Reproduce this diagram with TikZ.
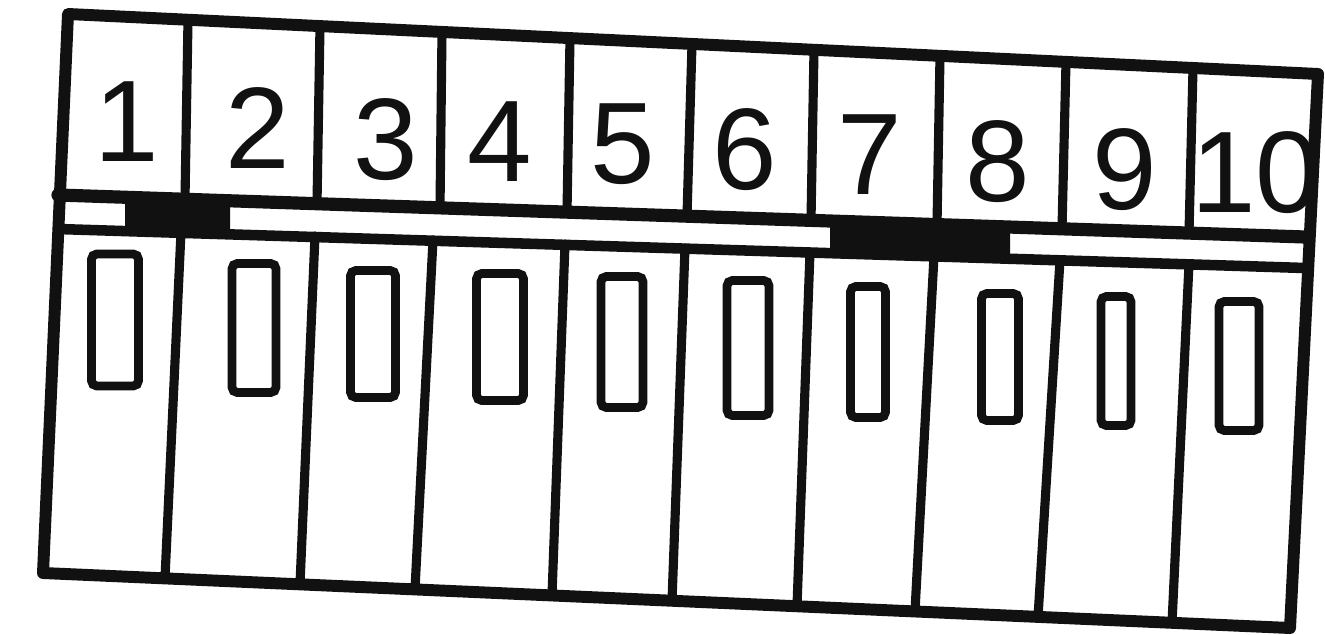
\documentclass[tikz,border=0pt]{standalone}
\usepackage{fontspec}
\setmainfont{Liberation Sans}
\usetikzlibrary{positioning}
\definecolor{Ink}{HTML}{111111}
\tikzset{
    frameline/.style={draw=Ink, line width=6.8pt, line join=round, line cap=round},
    divline/.style={draw=Ink, line width=5.2pt, line cap=round},
    bandline/.style={draw=Ink, line width=6pt, line cap=round},
    fusebox/.style={rectangle, rounded corners=3pt, draw=Ink, line width=5pt, inner sep=0pt},
    numnode/.style={text=Ink, font=\fontsize{66}{66}\selectfont, inner sep=0pt},
}

\begin{document}
\begin{tikzpicture}[x=0.02cm, y=-0.02cm]
\useasboundingbox (0,0) rectangle (1325,635);
% Striscia centrale
\fill[Ink] (125,197) -- (230,201) -- (230,234) -- (125,230) -- cycle;
\fill[Ink] (830,221) -- (1010,227) -- (1010,259) -- (830,253) -- cycle;
\draw[bandline, line width=7.5pt] (58,195) -- (1305,237);
\draw[bandline] (58,229) -- (1305,268);

% Cornice
\draw[frameline] (68,14) -- (1318,74) -- (1290,628) -- (43,573) -- cycle;

% Divisori sopra
\foreach \xa/\ya/\xb/\yb in {188/20/185/199, 320/26/317/204, 442/32/440/208, 570/38/567/212, 692/44/687/216, 814/50/811/220, 940/56/937/225, 1066/62/1062/229, 1193/68/1189/233}
    \draw[divline] (\xa,\ya) -- (\xb,\yb);

% Divisori sotto
\foreach \xa/\ya/\xb/\yb in {181/232/165/578, 315/236/300/584, 433/240/415/589, 565/244/552/595, 685/248/672/601, 810/252/797/606, 934/256/915/611, 1060/260/1038/617, 1189/264/1172/623}
    \draw[divline] (\xa,\ya) -- (\xb,\yb);

% Numeri
\foreach \n/\x/\y in {1/127/122, 2/258/128, 3/386/140, 4/500/142, 5/623/144, 6/745/150, 7/870/155, 8/998/162, 9/1125/170, 10/1256/173}
    \node[numnode] (num\n) at (\x,\y) {\n};

% Fusibili
\foreach \n/\x/\y/\w/\h in {1/115/320/47/132, 2/254/328/44/129, 3/373/334/45/127, 4/500/337/47/127, 5/622/342/42/131, 6/748/348/42/135, 7/868/352/35/131, 8/1000/357/37/127, 9/1116/361/30/129, 10/1239/366/40/129}
    \node[fusebox, minimum width=\w*0.02cm, minimum height=\h*0.02cm] (fuse\n) at (\x,\y) {};
\end{tikzpicture}
\end{document}
